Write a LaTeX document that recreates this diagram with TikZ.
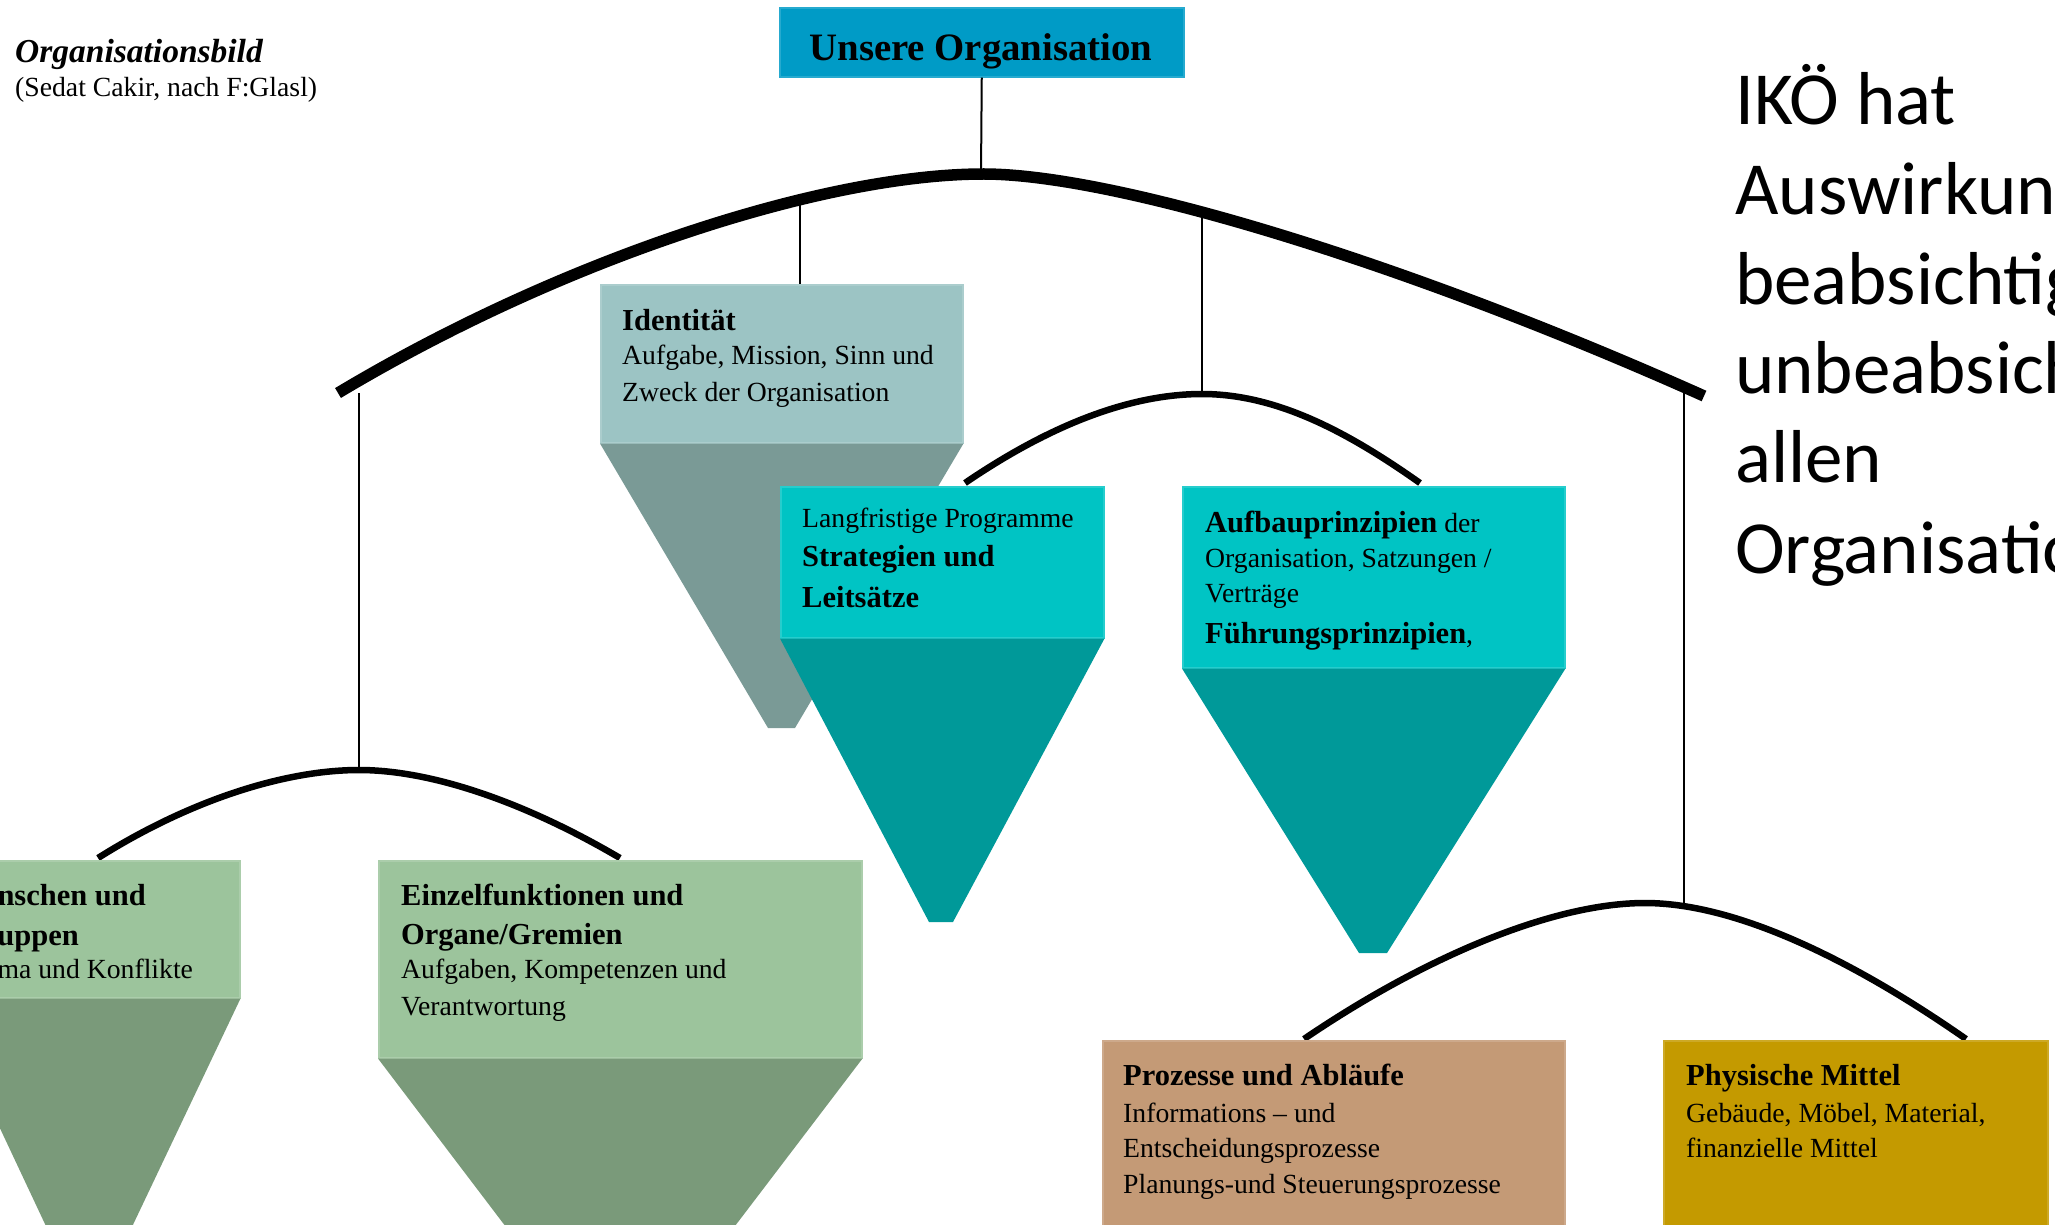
\documentclass[tikz,border=0pt]{standalone}
\usepackage{fontspec}
\setmainfont{Liberation Serif}
\newfontfamily\calib{Carlito}
\definecolor{cUnsere}{RGB}{0,155,198}
\definecolor{cIdL}{RGB}{156,196,196}
\definecolor{cIdD}{RGB}{122,154,150}
\definecolor{cCyL}{RGB}{0,196,196}
\definecolor{cCyD}{RGB}{0,153,153}
\definecolor{cGrL}{RGB}{156,196,156}
\definecolor{cGrD}{RGB}{122,154,122}
\definecolor{cPro}{RGB}{196,154,118}
\definecolor{cPhy}{RGB}{196,154,0}
\newcommand\txr{\fontsize{27.7}{33}\selectfont}
\newcommand\txb{\fontsize{30.5}{36}\selectfont\bfseries}
\newcommand\txbig{\calib\fontsize{75}{90}\selectfont}
\begin{document}
\begin{tikzpicture}[x=1pt,y=-1pt,
  box/.style={draw=#1!85!white, line width=1.5pt, fill=#1, rectangle, inner sep=0, anchor=north west},
  ln/.style={inner sep=0, anchor=base west},
  thinline/.style={line width=2pt},
  arcbig/.style={line width=11.5pt},
  arcsmall/.style={line width=6.5pt}]
\useasboundingbox (0,0) rectangle (2055,1224);
\clip (0,0) rectangle (2055,1224);

% top box
\node[box=cUnsere, minimum width=404pt, minimum height=69pt] (unsere) at (779,7) {};
\node[inner sep=0, anchor=base, font=\fontsize{38.8}{44}\selectfont\bfseries] (unseretxt) at (981,60) {Unsere Organisation};

% big arc
\coordinate (bigL) at (338,393);
\coordinate (bigTop) at (981,174);
\coordinate (bigR) at (1704,396);
\draw[arcbig] (bigL) .. controls (560,260) and (820,175) .. (bigTop) .. controls (1110,173) and (1400,260) .. (bigR);
\draw[thinline] (unsere.south) -- (bigTop);

% Identitaet
\coordinate (idTop) at (800,200);
\node[box=cIdL, minimum width=362pt, minimum height=158pt] (idbox) at (600,284) {};
\draw[thinline] (idTop) -- (idbox.north -| idTop);
\fill[cIdD] (idbox.south west) -- (idbox.south east) -- (795,728) -- (768,728) -- cycle;

% middle branch
\coordinate (midTop) at (1202,394);
\coordinate (midT) at (1202,214);
\draw[thinline] (midT) -- (midTop);
\draw[arcsmall] (965,483) .. controls (1050,425) and (1130,394) .. (midTop) .. controls (1275,394) and (1345,430) .. (1420,483);

\node[box=cCyL, minimum width=323pt, minimum height=151pt] (strbox) at (780,486) {};
\fill[cCyD] (strbox.south west) -- (strbox.south east) -- (953,922) -- (929,922) -- cycle;
\node[box=cCyL, minimum width=382pt, minimum height=181pt] (aufbox) at (1182,486) {};
\fill[cCyD] (aufbox.south west) -- (aufbox.south east) -- (1387,953) -- (1359,953) -- cycle;

% left branch
\coordinate (leftTop) at (359,770);
\draw[thinline] (359,393) -- (leftTop);
\draw[arcsmall] (98,858) .. controls (190,800) and (285,770) .. (leftTop) .. controls (435,770) and (530,805) .. (620,858);
\node[box=cGrL, minimum width=300pt, minimum height=137pt] (menbox) at (-61,860) {};
\fill[cGrD] (menbox.south west) -- (menbox.south east) -- (102,1290) -- (76,1290) -- cycle;
\node[box=cGrL, minimum width=483pt, minimum height=197pt] (einbox) at (378,860) {};
\fill[cGrD] (einbox.south west) -- (einbox.south east) -- (633,1360) -- (607,1360) -- cycle;

% right branch
\coordinate (rightTop) at (1645,903);
\draw[thinline] (1684,393) -- (1684,904);
\draw[arcsmall] (1304,1039) .. controls (1420,960) and (1550,903) .. (rightTop) .. controls (1740,903) and (1860,965) .. (1966,1039);
\node[box=cPro, minimum width=462pt, minimum height=190pt] (probox) at (1102,1040) {};
\node[box=cPhy, minimum width=384pt, minimum height=190pt] (phybox) at (1663,1040) {};

% title
\node[ln, font=\fontsize{33.5}{40}\selectfont\bfseries\itshape] (title) at (15,62) {Organisationsbild};
\node[ln, font=\txr] (subtitle) at (15,96) {(Sedat Cakir, nach F:Glasl)};

% Identitaet text
\node[ln, font=\txb] (id1) at (622,330) {Identität};
\node[ln, font=\txr] (id2) at (622,364) {Aufgabe, Mission, Sinn und};
\node[ln, font=\txr] (id3) at (622,401) {Zweck der Organisation};

% Strategien text
\node[ln, font=\txr] (st1) at (802,527) {Langfristige Programme};
\node[ln, font=\txb] (st2) at (802,566) {Strategien und};
\node[ln, font=\txb] (st3) at (802,607) {Leitsätze};

% Aufbau text
\node[ln] (au1) at (1205,532) {\txb Aufbauprinzipien\mdseries\txr{} der};
\node[ln, font=\txr] (au2) at (1205,567) {Organisation, Satzungen /};
\node[ln, font=\txr] (au3) at (1205,602) {Verträge};
\node[ln] (au4) at (1205,643) {\txb Führungsprinzipien\mdseries\txr,};

% Menschen text
\node[ln, font=\txb] (me1) at (-45,905) {Menschen und};
\node[ln, font=\txb] (me2) at (-40,945) {Gruppen};
\node[ln, font=\txr] (me3) at (-38,978) {Klima und Konflikte};

% Einzelfunktionen text
\node[ln, font=\txb] (ei1) at (401,905) {Einzelfunktionen und};
\node[ln, font=\txb] (ei2) at (401,944) {Organe/Gremien};
\node[ln, font=\txr] (ei3) at (401,978) {Aufgaben, Kompetenzen und};
\node[ln, font=\txr] (ei4) at (401,1015) {Verantwortung};

% Prozesse text
\node[ln, font=\txb] (pr1) at (1123,1085) {Prozesse und Abläufe};
\node[ln, font=\txr] (pr2) at (1123,1122) {Informations – und};
\node[ln, font=\txr] (pr3) at (1123,1157) {Entscheidungsprozesse};
\node[ln, font=\txr] (pr4) at (1123,1193) {Planungs-und Steuerungsprozesse};

% Physische text
\node[ln, font=\txb] (ph1) at (1686,1085) {Physische Mittel};
\node[ln, font=\txr] (ph2) at (1686,1122) {Gebäude, Möbel, Material,};
\node[ln, font=\txr] (ph3) at (1686,1157) {finanzielle Mittel};

% right text
\node[ln, font=\txbig] (r1) at (1735,124) {IKÖ hat};
\node[ln, font=\txbig] (r2) at (1735,214) {Auswirkungen};
\node[ln, font=\txbig] (r3) at (1735,304) {beabsichtigte};
\node[ln, font=\txbig] (r4) at (1735,393) {unbeabsichtigte};
\node[ln, font=\txbig] (r5) at (1735,482) {allen};
\node[ln, font=\txbig] (r6) at (1735,573) {Organisationsebenen};
\end{tikzpicture}
\end{document}
